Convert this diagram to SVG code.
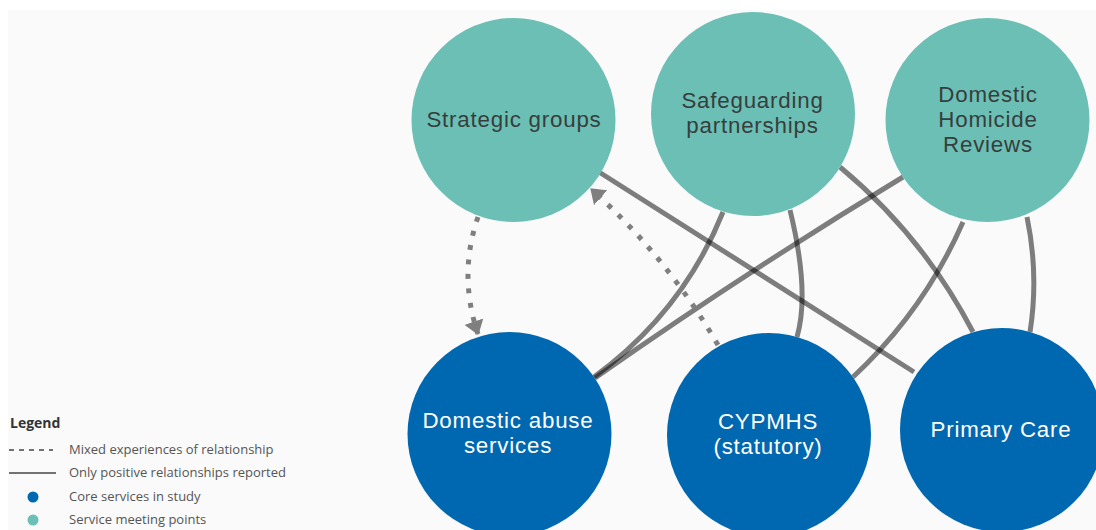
<svg xmlns="http://www.w3.org/2000/svg" width="1096" height="530" viewBox="0 0 1096 530">
  <defs>
    <style>
      .teal { fill: #6cbfb5; }
      .blue { fill: #0068b0; }
      .lbl { font-family: "Liberation Sans", Arial, sans-serif; font-size: 22.3px; letter-spacing: 0.8px; text-anchor: middle; }
      .dark { fill: #363e3d; }
      .light { fill: #ffffff; }
      .solid { fill: none; stroke: #000; stroke-opacity: 0.5; stroke-width: 5; }
      .dotted { fill: none; stroke: #7f7f7f; stroke-width: 5; stroke-dasharray: 5 9.5; }
      .leg { font-family: "Open Sans", "Liberation Sans", sans-serif; font-size: 13px; fill: #555; }
      .legt { font-family: "Open Sans", "Liberation Sans", sans-serif; font-size: 14px; font-weight: bold; fill: #333; }
    </style>
    <marker id="arrow" viewBox="0 0 14 20" refX="13" refY="10" markerWidth="14" markerHeight="20" markerUnits="userSpaceOnUse" orient="auto">
      <path d="M0,0 L14,10 L0,20 z" fill="#7f7f7f"/>
    </marker>
  </defs>
  <rect x="0" y="0" width="1096" height="530" fill="#ffffff"/>
  <rect x="8" y="10" width="1088" height="520" fill="#fafafa"/>

  <g id="connectors">
    <path class="solid" d="M599,172 L914,372"/>
    <path class="solid" d="M723,212 C703,262 665,325 594,377"/>
    <path class="solid" d="M903,177 Q746,272 595,378"/>
    <path class="solid" d="M790,210 Q810,292 797,337"/>
    <path class="solid" d="M840,167 Q923,236 973,332"/>
    <path class="solid" d="M963,222 Q924,311 853,377"/>
    <path class="solid" d="M1027,217 Q1039,275 1030,332"/>
    <path class="dotted" d="M478,217 Q458,275 478,334" marker-end="url(#arrow)"/>
    <path class="dotted" d="M718,345 Q667,257 591,189" marker-end="url(#arrow)"/>
  </g>

  <g id="strategic-groups">
    <circle class="teal" cx="513.5" cy="120" r="102"/>
    <text class="lbl dark" x="514" y="127">Strategic groups</text>
  </g>
  <g id="safeguarding-partnerships">
    <circle class="teal" cx="753" cy="114" r="102"/>
    <text class="lbl dark" x="752.5" y="108">Safeguarding</text>
    <text class="lbl dark" x="752.5" y="133">partnerships</text>
  </g>
  <g id="domestic-homicide-reviews">
    <circle class="teal" cx="987.5" cy="120" r="102"/>
    <text class="lbl dark" x="988" y="102">Domestic</text>
    <text class="lbl dark" x="988" y="127">Homicide</text>
    <text class="lbl dark" x="988" y="152">Reviews</text>
  </g>
  <g id="domestic-abuse-services">
    <circle class="blue" cx="509.5" cy="434" r="102"/>
    <text class="lbl light" x="508" y="428">Domestic abuse</text>
    <text class="lbl light" x="508" y="453">services</text>
  </g>
  <g id="cypmhs">
    <circle class="blue" cx="769" cy="435" r="102"/>
    <text class="lbl light" x="768" y="429">CYPMHS</text>
    <text class="lbl light" x="768" y="454">(statutory)</text>
  </g>
  <g id="primary-care">
    <circle class="blue" cx="1002" cy="430" r="102"/>
    <text class="lbl light" x="1001" y="437">Primary Care</text>
  </g>

  <g id="legend">
    <text class="legt" x="10" y="428">Legend</text>
    <line x1="9" y1="450" x2="53" y2="450" stroke="#444" stroke-width="1.5" stroke-dasharray="5 5"/>
    <text class="leg" x="69" y="454">Mixed experiences of relationship</text>
    <line x1="9" y1="473" x2="56" y2="473" stroke="#444" stroke-width="1.5"/>
    <text class="leg" x="69" y="477">Only positive relationships reported</text>
    <circle cx="33" cy="497" r="5.5" class="blue"/>
    <text class="leg" x="69" y="501">Core services in study</text>
    <circle cx="33" cy="520" r="5.5" class="teal"/>
    <text class="leg" x="69" y="524">Service meeting points</text>
  </g>
</svg>
